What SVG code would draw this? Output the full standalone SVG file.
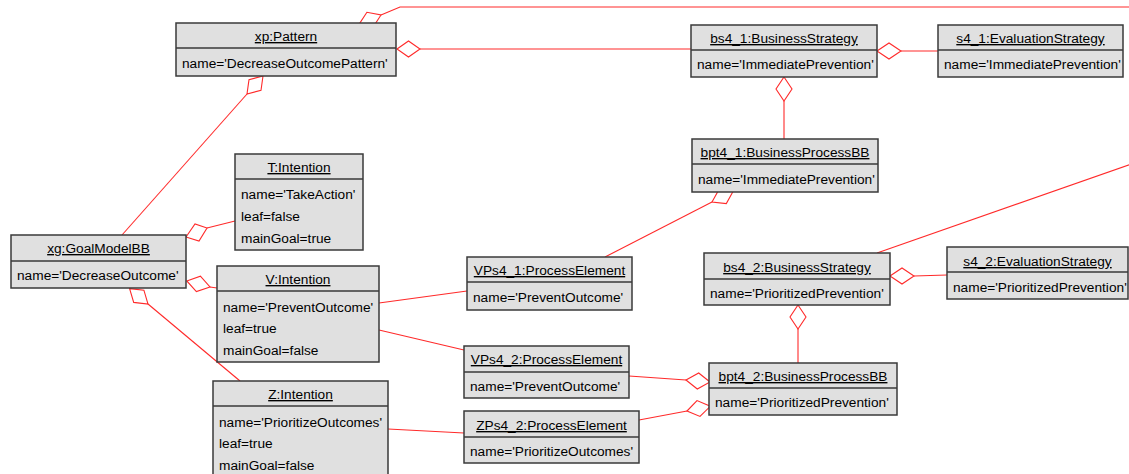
<svg xmlns="http://www.w3.org/2000/svg" width="1129" height="474" viewBox="0 0 1129 474">
<style>
.box{fill:#e0e0e0;stroke:#3a3a3a;stroke-width:1.5}
.div{stroke:#3a3a3a;stroke-width:1.5}
text{font-family:"Liberation Sans",Arial,sans-serif;font-size:13.7px;fill:#000}
.t{text-anchor:middle;text-decoration:underline}
.c line,.c polyline{stroke:#ff2a2a;stroke-width:1.1;fill:none}
.c polygon{stroke:#ff2a2a;stroke-width:1.1;fill:#fff}
</style>
<rect width="1129" height="474" fill="#fff"/>
<g id="connectors" class="c">
<polyline points="381,15 400,7 1135,7"/>
<polygon points="359,24.4 366.9,12.3 381,15 373.1,27.1"/>
<line x1="420" y1="49" x2="691" y2="49"/>
<polygon points="397,49 408.5,41 420,49 408.5,57"/>
<line x1="901" y1="51" x2="938" y2="51"/>
<polygon points="877,51 889,43 901,51 889,59"/>
<line x1="784" y1="101" x2="784" y2="139"/>
<polygon points="784,77 792,89 784,101 776,89"/>
<line x1="605" y1="257" x2="712" y2="202"/>
<polygon points="733.3,191 719,189.4 712,202 726.3,203.6"/>
<line x1="122" y1="235" x2="247" y2="94"/>
<polygon points="263,76 261,90.3 247,94 249,79.7"/>
<line x1="235" y1="221" x2="207" y2="228"/>
<polygon points="186,237 195,224 207,228 199,241"/>
<line x1="217" y1="288" x2="210" y2="287"/>
<polygon points="186.8,280.9 200.4,276.2 210,287 196.4,291.6"/>
<line x1="240" y1="381" x2="148" y2="304"/>
<polygon points="129.6,288.6 143.9,290.2 148,304 133.7,302.4"/>
<line x1="379" y1="303" x2="467" y2="291"/>
<line x1="379" y1="330" x2="464" y2="350"/>
<line x1="388" y1="429" x2="464" y2="433"/>
<line x1="629" y1="376" x2="686" y2="380"/>
<polygon points="686,380 698.7,373 710,382 697.3,389"/>
<line x1="639" y1="420" x2="687" y2="411"/>
<polygon points="687,411 697,400.6 710.3,406.3 700,416.4"/>
<line x1="914" y1="276" x2="947" y2="275"/>
<polygon points="890,276 902,268 914,276 902,284"/>
<line x1="798" y1="329" x2="798" y2="363"/>
<polygon points="798,305 806,317 798,329 790,317"/>
<line x1="877" y1="253" x2="1140" y2="161"/>
</g>
<g id="xp">
<rect class="box" x="176" y="23" width="220" height="53"/>
<line class="div" x1="176" y1="48" x2="396" y2="48"/>
<text class="t" x="286" y="41">xp:Pattern</text>
<text x="182" y="68">name='DecreaseOutcomePattern'</text>
</g>
<g id="bs4_1">
<rect class="box" x="691" y="25" width="186" height="52"/>
<line class="div" x1="691" y1="50" x2="877" y2="50"/>
<text class="t" x="784" y="43">bs4_1:BusinessStrategy</text>
<text x="697" y="69">name='ImmediatePrevention'</text>
</g>
<g id="s4_1">
<rect class="box" x="938" y="25" width="185" height="52"/>
<line class="div" x1="938" y1="50" x2="1123" y2="50"/>
<text class="t" x="1030.5" y="43">s4_1:EvaluationStrategy</text>
<text x="944" y="69">name='ImmediatePrevention'</text>
</g>
<g id="bpt4_1">
<rect class="box" x="692" y="139" width="186" height="53"/>
<line class="div" x1="692" y1="164" x2="878" y2="164"/>
<text class="t" x="785" y="157">bpt4_1:BusinessProcessBB</text>
<text x="698" y="184">name='ImmediatePrevention'</text>
</g>
<g id="T">
<rect class="box" x="235" y="154" width="128" height="96"/>
<line class="div" x1="235" y1="179" x2="363" y2="179"/>
<text class="t" x="299" y="172">T:Intention</text>
<text x="241" y="199">name='TakeAction'</text>
<text x="241" y="221">leaf=false</text>
<text x="241" y="243">mainGoal=true</text>
</g>
<g id="xg">
<rect class="box" x="11" y="235" width="175" height="53"/>
<line class="div" x1="11" y1="261" x2="186" y2="261"/>
<text class="t" x="98.5" y="253">xg:GoalModelBB</text>
<text x="17" y="280">name='DecreaseOutcome'</text>
</g>
<g id="V">
<rect class="box" x="217" y="266" width="162" height="96"/>
<line class="div" x1="217" y1="291" x2="379" y2="291"/>
<text class="t" x="298" y="284">V:Intention</text>
<text x="223" y="311.5">name='PreventOutcome'</text>
<text x="223" y="333">leaf=true</text>
<text x="223" y="354.5">mainGoal=false</text>
</g>
<g id="VPs4_1">
<rect class="box" x="467" y="257" width="165" height="53"/>
<line class="div" x1="467" y1="282" x2="632" y2="282"/>
<text class="t" x="549.5" y="275">VPs4_1:ProcessElement</text>
<text x="473" y="302">name='PreventOutcome'</text>
</g>
<g id="bs4_2">
<rect class="box" x="704" y="253" width="186" height="52"/>
<line class="div" x1="704" y1="279" x2="890" y2="279"/>
<text class="t" x="797" y="272">bs4_2:BusinessStrategy</text>
<text x="710" y="298">name='PrioritizedPrevention'</text>
</g>
<g id="s4_2">
<rect class="box" x="947" y="247" width="181" height="52"/>
<line class="div" x1="947" y1="272" x2="1128" y2="272"/>
<text class="t" x="1037.5" y="266">s4_2:EvaluationStrategy</text>
<text x="953" y="292">name='PrioritizedPrevention'</text>
</g>
<g id="VPs4_2">
<rect class="box" x="464" y="346" width="165" height="52"/>
<line class="div" x1="464" y1="372" x2="629" y2="372"/>
<text class="t" x="546.5" y="364">VPs4_2:ProcessElement</text>
<text x="470" y="391">name='PreventOutcome'</text>
</g>
<g id="Z">
<rect class="box" x="213" y="381" width="175" height="96"/>
<line class="div" x1="213" y1="406" x2="388" y2="406"/>
<text class="t" x="300.5" y="399">Z:Intention</text>
<text x="219" y="427">name='PrioritizeOutcomes'</text>
<text x="219" y="448">leaf=true</text>
<text x="219" y="469.5">mainGoal=false</text>
</g>
<g id="ZPs4_2">
<rect class="box" x="464" y="411" width="175" height="52"/>
<line class="div" x1="464" y1="437" x2="639" y2="437"/>
<text class="t" x="551.5" y="430">ZPs4_2:ProcessElement</text>
<text x="470" y="456">name='PrioritizeOutcomes'</text>
</g>
<g id="bpt4_2">
<rect class="box" x="709" y="363" width="188" height="52"/>
<line class="div" x1="709" y1="388" x2="897" y2="388"/>
<text class="t" x="803" y="381">bpt4_2:BusinessProcessBB</text>
<text x="715" y="407">name='PrioritizedPrevention'</text>
</g>
</svg>
